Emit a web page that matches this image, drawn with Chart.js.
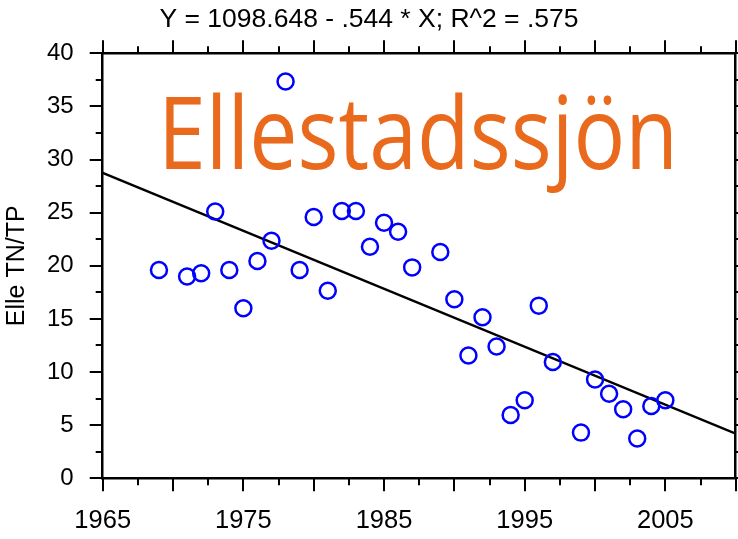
<!DOCTYPE html>
<html><head><meta charset="utf-8">
<script src="https://cdn.jsdelivr.net/npm/chart.js@4/dist/chart.umd.min.js"></script>
<style>html,body{margin:0;padding:0;background:#fff;overflow:hidden}#wrap{width:738px;height:539px}</style>
</head><body><div id="wrap"><canvas id="c" width="738" height="539"></canvas></div>
<script>
const years = [1969,1971,1972,1973,1974,1975,1976,1977,1978,1979,1980,1981,1982,1983,1984,1985,1986,1987,1989,1990,1991,1992,1993,1994,1995,1996,1997,1999,2000,2001,2002,2003,2004,2005];
const ratios = [19.6,19.0,19.3,25.1,19.6,16.0,20.45,22.35,37.35,19.6,24.6,17.65,25.15,25.15,21.8,24.05,23.2,19.85,21.3,16.85,11.55,15.15,12.4,5.95,7.35,16.25,10.95,4.3,9.3,7.95,6.5,3.75,6.8,7.35];
const fitYears = [1965, 2010];
const fitValues = [28.75, 4.2];
const xTickLabels = [1965,1975,1985,1995,2005];
const yTickLabels = [0,5,10,15,20,25,30,35,40];
const titleText = 'Y = 1098.648 - .544 * X; R^2 = .575';
const yAxisTitle = 'Elle TN/TP';
const lakeName = 'Ellestadssjön';

const FONT = "'Liberation Sans', Arial, sans-serif";

const tickPlugin = {
  id: 'tickMarks',
  afterDraw(chart) {
    const ctx = chart.ctx;
    const a = chart.chartArea;
    const x = chart.scales.x, y = chart.scales.y;
    ctx.save();
    ctx.strokeStyle = '#000';
    ctx.lineWidth = 2;
    ctx.beginPath();
    for (let v = x.min; v <= x.max + 1e-6; v += 2.5) {
      const px = Math.round(x.getPixelForValue(v));
      const len = (Math.abs((v - x.min) % 5) < 1e-6) ? 13 : 7;
      ctx.moveTo(px, a.bottom); ctx.lineTo(px, a.bottom + len);
      ctx.moveTo(px, a.top); ctx.lineTo(px, a.top - len);
    }
    for (let v = y.min; v <= y.max + 1e-6; v += 2.5) {
      const py = Math.round(y.getPixelForValue(v));
      const len = (Math.abs(v % 5) < 1e-6) ? 13 : 7;
      ctx.moveTo(a.left, py); ctx.lineTo(a.left - len, py);
      ctx.moveTo(a.right, py); ctx.lineTo(a.right + len, py);
    }
    ctx.stroke();
    // lake name
    ctx.fillStyle = '#E96A1C';
    ctx.textBaseline = 'alphabetic';
    ctx.textAlign = 'left';
    ctx.font = "100px 'Comic Sans MS', 'Open Sans', sans-serif";
    const w = ctx.measureText(lakeName).width;
    const sx = 520 / w;
    ctx.translate(158, 169);
    ctx.scale(sx, 1);
    ctx.fillText(lakeName, 0, 0);
    ctx.restore();
  }
};

function noPad(s) { s.paddingLeft = 0; s.paddingRight = 0; s.paddingTop = 0; s.paddingBottom = 0; }

new Chart(document.getElementById('c'), {
  type: 'scatter',
  data: {
    datasets: [
      {
        data: years.map((yr, i) => ({x: yr, y: ratios[i]})),
        pointStyle: 'circle',
        pointRadius: 8,
        pointBorderWidth: 2.5,
        borderColor: '#0000FF',
        pointBorderColor: '#0000FF',
        backgroundColor: 'rgba(0,0,0,0)',
        pointBackgroundColor: 'rgba(0,0,0,0)',
        showLine: false,
        clip: false
      },
      {
        type: 'line',
        data: fitYears.map((yr, i) => ({x: yr, y: fitValues[i]})),
        borderColor: '#000',
        borderWidth: 2.5,
        pointRadius: 0,
        fill: false,
        tension: 0
      }
    ]
  },
  options: {
    responsive: false,
    animation: false,
    devicePixelRatio: 1,
    layout: { padding: 0, autoPadding: false },
    plugins: {
      legend: { display: false },
      tooltip: { enabled: false },
      title: {
        display: true,
        text: titleText,
        color: '#000',
        font: { family: FONT, size: 26.5, weight: 'normal', lineHeight: 1.2 },
        padding: { top: 4, bottom: 0 }
      }
    },
    scales: {
      x: {
        type: 'linear', position: 'bottom', min: 1965, max: 2010,
        afterBuildTicks: s => { s.ticks = xTickLabels.map(v => ({value: v})); },
        afterFit: s => { s.height = 539 - 478.3; noPad(s); },
        ticks: { callback: v => String(v), color: '#000', font: { family: FONT, size: 25.5 }, padding: 27, maxRotation: 0, autoSkip: false },
        grid: { drawOnChartArea: false, drawTicks: false },
        border: { display: true, color: '#000', width: 2.5 }
      },
      x2: {
        type: 'linear', position: 'top', min: 1965, max: 2010,
        afterFit: s => { s.height = 53.3 - (26.5 * 1.2 + 4); noPad(s); },
        ticks: { display: false },
        grid: { drawOnChartArea: false, drawTicks: false },
        border: { display: true, color: '#000', width: 2.5 }
      },
      y: {
        type: 'linear', position: 'left', min: 0, max: 40,
        afterBuildTicks: s => { s.ticks = yTickLabels.map(v => ({value: v})); },
        afterFit: s => { s.width = 102.7; noPad(s); },
        ticks: { callback: v => String(v), color: '#000', font: { family: FONT, size: 24 }, padding: 29, autoSkip: false },
        grid: { drawOnChartArea: false, drawTicks: false },
        border: { display: true, color: '#000', width: 2.5 },
        title: { display: true, text: yAxisTitle, color: '#000', font: { family: FONT, size: 25 }, padding: { top: 2, bottom: 0 } }
      },
      y2: {
        type: 'linear', position: 'right', min: 0, max: 40,
        afterFit: s => { s.width = 738 - 735.7; noPad(s); },
        ticks: { display: false },
        grid: { drawOnChartArea: false, drawTicks: false },
        border: { display: true, color: '#000', width: 2.5 }
      }
    }
  },
  plugins: [tickPlugin]
});
</script>
</body></html>
